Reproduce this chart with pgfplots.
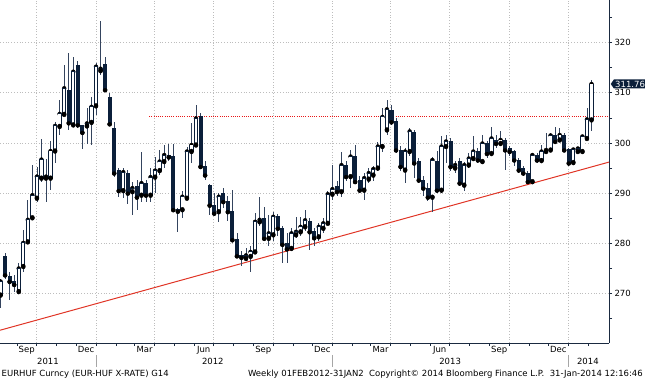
\documentclass[border=0pt]{standalone}
\usepackage{fontspec}
\setmainfont{DejaVu Sans}
\usepackage{pgfplots}
\pgfplotsset{compat=1.18}
\usepackage{pgfplotstable}
\usetikzlibrary{shapes.symbols}
\definecolor{navy}{HTML}{0B1F3A}
\definecolor{wick}{HTML}{34445E}
\definecolor{gridc}{HTML}{BDBDBD}
\definecolor{trend}{HTML}{E03526}
\definecolor{resist}{HTML}{E81818}
\definecolor{axisc}{HTML}{1A2A40}

% weekly candles: w = week index (0 = first week of 2012)
\pgfplotstableread{
w O H L C
-21 269.7 273.0 267.1 272.4
-20 277.4 278.0 273.0 273.7
-19 273.5 274.4 268.7 272.4
-18 272.5 273.7 270.4 271.8
-17 270.4 276.0 270.1 275.0
-16 275.4 282.7 274.4 280.1
-15 280.3 288.6 280.0 284.7
-14 285.1 295.6 284.9 289.6
-13 289.0 295.3 288.3 293.3
-12 293.0 300.8 292.3 296.7
-11 293.0 296.9 288.3 293.3
-10 293.0 300.4 290.6 298.4
-9 298.4 304.2 296.0 303.4
-8 303.3 308.6 301.6 305.8
-7 305.7 315.5 305.3 310.9
-6 310.4 317.9 302.6 304.0
-5 303.6 317.2 303.3 314.2
-4 315.5 316.4 302.9 303.6
-3 303.4 303.6 298.9 302.1
-2 303.4 307.0 299.9 303.9
-1 304.1 309.1 299.6 307.2
0 307.4 315.9 305.6 315.2
1 314.4 324.3 313.5 314.8
2 315.7 317.2 310.3 310.6
3 309.1 309.9 303.5 303.8
4 302.9 304.2 293.3 294.0
5 294.6 295.0 289.2 290.5
6 290.5 295.0 289.0 294.2
7 294.0 294.6 287.8 290.0
8 290.3 292.3 285.7 291.0
9 291.3 292.6 286.7 289.2
10 289.6 298.3 288.3 292.0
11 291.9 292.6 288.3 289.6
12 289.6 295.0 288.3 293.2
13 293.2 297.3 290.0 294.5
14 294.5 298.6 293.6 296.3
15 296.3 299.6 295.0 297.6
16 297.6 299.8 296.5 297.2
17 297.3 299.9 286.5 286.7
18 286.7 287.0 282.3 286.4
19 286.7 290.5 285.0 289.3
20 289.0 299.3 288.7 298.3
21 298.3 303.9 296.0 299.6
22 299.6 307.6 299.3 304.9
23 305.2 305.9 295.0 295.3
24 295.3 296.5 292.6 293.6
25 291.6 291.8 285.7 287.6
26 287.6 290.0 285.5 286.0
27 286.3 290.0 284.3 289.3
28 290.0 291.0 287.0 288.3
29 288.3 289.5 284.5 286.3
30 286.3 290.6 280.5 280.7
31 280.7 282.0 277.0 277.5
32 277.7 278.5 275.4 277.2
33 277.0 279.0 276.5 277.6
34 277.4 279.5 274.4 278.3
35 278.3 286.1 277.8 284.3
36 284.3 289.3 283.5 284.7
37 285.0 287.3 280.5 281.0
38 281.0 285.7 279.5 282.0
39 281.7 286.3 280.5 285.3
40 285.3 285.8 281.5 283.0
41 283.0 283.5 276.0 279.8
42 279.9 282.0 276.0 278.9
43 279.0 283.0 278.5 282.0
44 281.7 285.3 281.0 282.3
45 282.3 285.3 281.5 283.3
46 283.3 286.7 282.5 284.6
47 284.3 285.0 278.7 282.3
48 282.3 283.0 279.5 281.1
49 281.3 284.0 280.5 283.3
50 283.0 285.0 282.0 284.0
51 284.0 290.5 283.8 289.8
52 289.8 295.6 288.6 290.8
53 291.3 292.5 289.5 290.3
54 290.3 298.3 289.3 295.6
55 295.6 296.5 292.5 293.3
56 293.3 298.6 291.0 297.3
57 297.3 299.6 291.8 292.3
58 292.5 293.5 290.0 290.6
59 290.6 294.0 288.6 293.0
60 292.8 295.0 292.0 294.0
61 293.6 295.5 292.5 294.8
62 295.0 300.3 294.5 299.3
63 299.3 306.9 298.3 305.2
64 302.6 308.6 301.6 306.7
65 306.4 307.6 303.5 304.2
66 304.2 305.0 298.0 298.6
67 298.6 299.5 294.5 295.3
68 294.6 299.0 292.0 298.3
69 298.3 303.0 297.5 302.3
70 302.1 302.5 293.0 296.0
71 296.3 297.0 292.0 292.6
72 292.6 293.5 289.5 291.0
73 291.0 292.0 288.5 289.2
74 289.2 297.3 286.3 296.6
75 296.3 298.5 290.0 290.6
76 290.6 301.3 290.0 299.3
77 299.3 301.5 296.0 300.3
78 300.3 301.0 294.5 295.3
79 295.0 296.5 294.0 295.6
80 296.3 297.0 291.5 292.0
81 291.6 296.3 290.5 295.6
82 295.6 298.0 295.0 296.9
83 296.9 301.3 296.5 298.3
84 298.3 299.0 296.0 296.6
85 296.3 301.6 296.0 299.9
86 299.9 300.5 297.0 297.9
87 297.9 303.2 297.5 300.9
88 300.6 301.5 299.0 299.9
89 299.9 302.3 299.5 300.6
90 300.6 301.0 294.6 298.6
91 298.9 299.5 297.5 298.3
92 298.3 298.6 295.5 296.6
93 296.6 297.0 294.0 294.6
94 295.0 295.5 293.5 294.0
95 294.0 294.5 292.0 292.3
96 292.3 297.9 292.0 297.6
97 297.6 298.0 296.0 296.6
98 296.5 299.6 296.3 298.3
99 298.3 301.9 298.0 298.6
100 298.6 302.0 298.3 301.5
101 301.6 303.2 300.0 300.3
102 300.6 302.9 300.3 301.6
103 301.6 302.0 298.3 298.6
104 298.7 299.0 295.5 296.0
105 296.1 299.0 295.8 298.7
106 298.3 299.2 298.0 298.9
107 298.3 301.6 298.0 301.3
108 300.9 306.9 300.6 304.7
109 304.6 312.5 302.3 311.76
}\candles

\begin{document}
\begin{tikzpicture}[font=\fontsize{8.5}{10}\selectfont]
\useasboundingbox (0,0) rectangle (645pt,380pt);
\begin{axis}[
  at={(0pt,37pt)}, anchor=south west,
  width=609pt, height=343pt, scale only axis,
  xmin=-21.12, xmax=112.85, ymin=260.16, ymax=328.49,
  clip mode=individual,
  axis x line*=bottom, axis y line*=right,
  axis line style={-, draw=axisc, line width=0.8pt},
  ytick={270,280,...,320}, minor ytick={265,275,...,325},
  ymajorgrids, xmajorgrids,
  grid style={gridc, line width=0.7pt, dash pattern=on 0.8pt off 2pt},
  xtick={-13.09,0,12.94,25.88,38.96,52.04,64.84,77.78,90.85,103.94},
  xticklabels={},
  minor xtick={-17.4,-8.67,-4.41,4.41,8.53,17.21,21.61,30.29,34.69,43.37,47.63,56.45,60.43,69.11,73.52,82.18,86.60,95.26,99.53,108.36},
  tick align=outside,
  major tick length=3pt, minor tick length=3pt,
  tick style={axisc, line width=0.8pt},
  extra x ticks={-15.25,-2.2,10.7,23.7,36.8,49.8,62.6,75.6,88.7,101.7},
  extra x tick labels={Sep,Dec,Mar,Jun,Sep,Dec,Mar,Jun,Sep,Dec},
  extra x tick style={major tick length=0pt, grid=none},
  tick label style={font=\fontsize{8.5}{10}\selectfont, text=black},
  xticklabel style={yshift=0.5pt},
  yticklabel style={xshift=-1pt},
  /pgf/number format/assume math mode=true,
]
% trend line and resistance
\addplot[trend, line width=1pt, forget plot] coordinates {(-21.12,262.7) (112.85,296.2)};
\addplot[resist, line width=1pt, dash pattern=on 1.1pt off 1.1pt, forget plot] coordinates {(11.7,305.2) (112.85,305.2)};
% wicks
\addplot[only marks, mark=none, forget plot,
  error bars/.cd, y dir=both, y explicit, error mark=none,
  error bar style={draw=wick, line width=0.8pt}]
  table[x=w, y=C, y error plus expr=\thisrow{H}-\thisrow{C}, y error minus expr=\thisrow{C}-\thisrow{L}] {\candles};
% bodies (all dark)
\addplot[only marks, mark=none, forget plot,
  error bars/.cd, y dir=plus, y explicit, error mark=none,
  error bar style={draw=navy, line width=4.1pt, line cap=butt}]
  table[x=w, y expr={min(\thisrow{O},\thisrow{C})-0.09}, y error plus expr={abs(\thisrow{C}-\thisrow{O})+0.18}] {\candles};
% hollow interiors of rising candles
\addplot[only marks, mark=none, forget plot,
  restrict expr to domain={\thisrow{C}-\thisrow{O}}{0:1000},
  error bars/.cd, y dir=plus, y explicit, error mark=none,
  error bar style={draw=white, line width=2.3pt, line cap=butt}]
  table[x=w, y expr={\thisrow{O}+0.09}, y error plus expr={max(\thisrow{C}-\thisrow{O}-0.18,0)}] {\candles};
\coordinate (lp) at (axis cs:112.85,311.76);
\coordinate (s1) at (axis cs:0,260.16);
\coordinate (s2) at (axis cs:52.04,260.16);
\coordinate (s3) at (axis cs:103.94,260.16);
\coordinate (y1) at (axis cs:-10.56,260.16);
\coordinate (y2) at (axis cs:25.7,260.16);
\coordinate (y3) at (axis cs:77.9,260.16);
\coordinate (y4) at (axis cs:108.2,260.16);
\end{axis}
\foreach \s in {s1,s2,s3}{\draw[gray!70, line width=0.6pt] ([yshift=-12pt]\s) -- ++(0,-12pt);}
\foreach \y/\t in {y1/2011,y2/2012,y3/2013,y4/2014}{\node[text=black] at ([yshift=-18.7pt]\y) {\t};}
\node[signal, signal to=west, signal pointer angle=110, fill=navy, text=white, inner sep=1.3pt, anchor=west] at ([xshift=1.5pt]lp) {311.76};
\node[anchor=base west, inner sep=0, text=black] at (1.5pt,3.5pt) {EURHUF Curncy (EUR-HUF X-RATE) G14};
\node[anchor=base east, inner sep=0, text=black] at (643pt,3.5pt) {Weekly 01FEB2012-31JAN2\ \ Copyright© 2014 Bloomberg Finance L.P.\ \ 31-Jan-2014 12:16:46};
\end{tikzpicture}
\end{document}
